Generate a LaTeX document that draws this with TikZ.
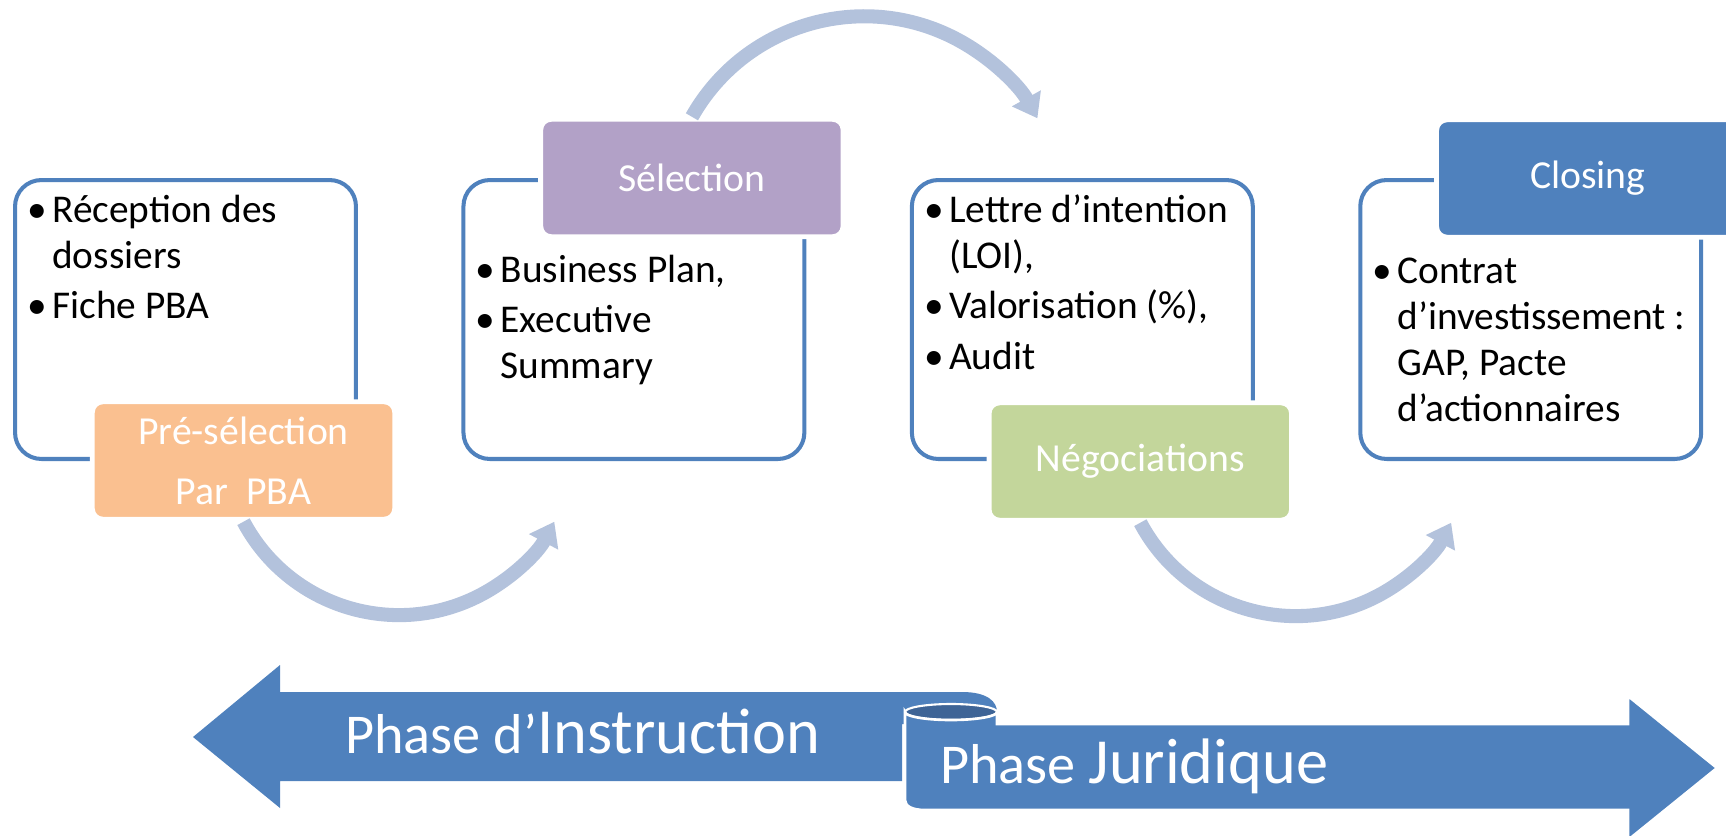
\documentclass[tikz,border=0pt]{standalone}
\usepackage{fontspec}
\setmainfont{Carlito}
\usetikzlibrary{arrows.meta}
\definecolor{cadre}{RGB}{79,129,189}
\definecolor{peche}{RGB}{250,192,144}
\definecolor{mauve}{RGB}{178,161,199}
\definecolor{vert}{RGB}{195,214,155}
\definecolor{fleche}{RGB}{179,194,220}
\definecolor{bleufonce}{RGB}{62,100,150}
\newcommand\puce[1]{\par\noindent\hangindent=14.2pt\hangafter=1\makebox[14.2pt][l]{•}#1}
\newcommand\liste[1]{\parbox[t]{8cm}{\parskip=2.8pt #1}}
\begin{document}
\begin{tikzpicture}[
					x=0.02cm, y=-0.02cm,
					node distance=8.97cm,
					stage/.style={rectangle,rounded corners=15pt,draw=cadre,line width=2.3pt,fill=white,minimum width=6.82cm,minimum height=5.58cm},
					etiquette/.style={rectangle,rounded corners=6pt,draw=white,line width=2.8pt,text=white,minimum width=6.05cm,minimum height=2.35cm,align=center,font=\fontsize{22.6}{34}\selectfont},
					puces/.style={anchor=base west,inner sep=0pt,font=\fontsize{22.4}{26.2}\selectfont},
					flow/.style={draw=fleche,line width=8pt,-{Triangle[length=13pt,width=18pt]}},
					phase/.style={anchor=base west,inner sep=0pt,text=white},
					]
					\useasboundingbox (0,0) rectangle (1726,835);
					\clip (0,0) rectangle (1726,835);
					\node [stage] (recep) at (185.5,319.5) {};
					\node [stage,right of=recep] (busi) {};
					\node [stage,right of=busi] (lettre) {};
					\node [stage,right of=lettre] (contrat) {};
					\node [etiquette,fill=peche] (presel) at ([shift={(58,141)}]recep.center) {Pré-sélection\\Par\ \ PBA};
					\node [etiquette,fill=mauve] (select) at ([shift={(58,-141.5)}]busi.center) {Sélection};
					\node [etiquette,fill=vert] (nego) at ([shift={(58,142)}]lettre.center) {Négociations};
					\node [etiquette,fill=cadre] (closing) at ([shift={(57,-141)}]contrat.center) {Closing};
					\node [puces] (recepTxt) at ([shift={(14,44)}]recep.north west) {\liste{\puce{Réception des\\dossiers}\puce{Fiche PBA}}};
					\node [puces] (busiTxt) at ([shift={(14,104)}]busi.north west) {\liste{\puce{Business Plan,}\puce{Executive\\Summary}}};
					\node [puces] (lettreTxt) at ([shift={(14,44)}]lettre.north west) {\liste{\puce{Lettre d’intention\\(LOI),}\puce{Valorisation (\%),}\puce{Audit}}};
					\node [puces] (contratTxt) at ([shift={(14,105)}]contrat.north west) {\liste{\puce{Contrat\\d’investissement :\\GAP, Pacte\\d’actionnaires}}};
					\draw[flow] (presel.south) arc[start angle=152,end angle=28,radius=176];
					\draw[flow] (select.north) arc[start angle=209.5,end angle=331,radius=198];
					\draw[flow] (nego.south) arc[start angle=152,end angle=28,radius=176];
					\fill[cadre] (193,737) -- (280,665) -- (280,692) -- (962,692) .. controls (988,692) and (997,702) .. (997,712) -- (997,724) -- (902,724) -- (902,781) -- (280,781) -- (280,808) -- cycle;
					\filldraw[fill=bleufonce,draw=white,line width=1.2pt] (951,712) ellipse [x radius=46,y radius=8];
					\filldraw[fill=cadre,draw=white,line width=1.5pt] (905,712) arc[start angle=180,end angle=0,x radius=46,y radius=8] -- (997,724) -- (1628,724) -- (1628,696) -- (1717,768) -- (1628,840) -- (1628,810) -- (925,810) .. controls (912,810) and (905,806) .. (905,800) -- cycle;
					\node [phase] (instruction) at (345,753) {{\fontsize{32}{36}\selectfont Phase d’}{\fontsize{36.6}{42}\selectfont Instruction}};
					\node [phase] (juridique) at (940,783) {{\fontsize{32}{36}\selectfont Phase }{\fontsize{36.6}{42}\selectfont Juridique}};
				\end{tikzpicture}
\end{document}
